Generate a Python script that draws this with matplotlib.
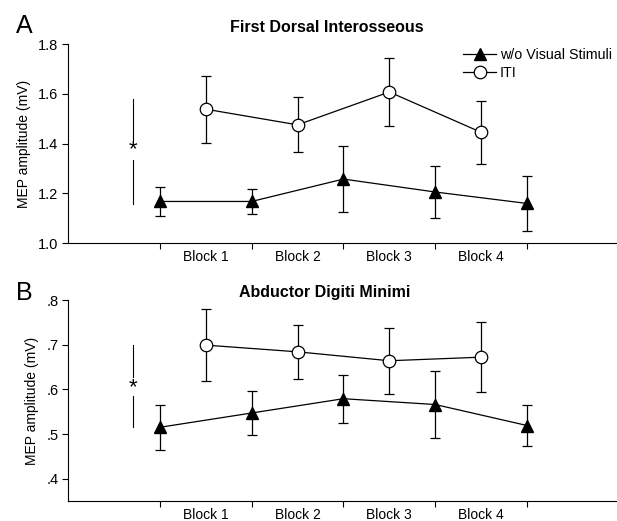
import matplotlib
matplotlib.use("Agg")
import matplotlib.pyplot as plt
from matplotlib.lines import Line2D

plt.rcParams["font.family"] = ["Liberation Sans", "DejaVu Sans"]

# ==== data ====
blocks = ["Block 1", "Block 2", "Block 3", "Block 4"]
tri_x = [0, 1, 2, 3, 4]            # w/o Visual Stimuli sits on the block borders
iti_x = [0.5, 1.5, 2.5, 3.5]       # ITI sits in the middle of each block

fdi_novis = [1.167, 1.167, 1.257, 1.205, 1.159]
fdi_novis_err = [0.057, 0.052, 0.134, 0.105, 0.112]
fdi_iti = [1.538, 1.475, 1.607, 1.445]
fdi_iti_err = [0.135, 0.110, 0.136, 0.127]

adm_novis = [0.515, 0.547, 0.579, 0.566, 0.519]
adm_novis_err = [0.050, 0.050, 0.054, 0.075, 0.046]
adm_iti = [0.699, 0.684, 0.664, 0.672]
adm_iti_err = [0.081, 0.060, 0.074, 0.078]

fdi_ticks = [1.0, 1.2, 1.4, 1.6, 1.8]
fdi_ticklabels = ["1.0", "1.2", "1.4", "1.6", "1.8"]
adm_ticks = [0.4, 0.5, 0.6, 0.7, 0.8]
adm_ticklabels = [".4", ".5", ".6", ".7", ".8"]

# significance bar: (bottom, gap start, gap end, top, star y)
fdi_sig = (1.158, 1.334, 1.415, 1.578, 1.377)
adm_sig = (0.515, 0.586, 0.627, 0.700, 0.604)

W, H = 617, 521
fig = plt.figure(figsize=(W / 100, H / 100), dpi=100)

def draw_panel(rect, novis, novis_err, iti, iti_err, ylim, ticks, ticklabels,
               sig, label_legend=False):
    ax = fig.add_axes(rect)
    ax.errorbar(tri_x, novis, yerr=novis_err, color="black", lw=0.9,
                elinewidth=0.9, capsize=3.6, capthick=0.9, marker="^",
                markersize=9, markerfacecolor="black", markeredgecolor="black",
                zorder=3)
    ax.errorbar(iti_x, iti, yerr=iti_err, color="black", lw=0.9,
                elinewidth=0.9, capsize=3.6, capthick=0.9, marker="o",
                markersize=9, markerfacecolor="white", markeredgecolor="black",
                markeredgewidth=0.9, zorder=3)

    ax.set_xlim(-1, 4.98)
    ax.set_ylim(*ylim)
    ax.set_yticks(ticks)
    ax.set_yticklabels(ticklabels)
    ax.set_xticks(tri_x)
    ax.set_xticklabels([])
    ax.set_xticks(iti_x, minor=True)
    ax.set_xticklabels(blocks, minor=True)
    ax.tick_params(axis="x", which="minor", length=0, pad=5, labelsize=10)
    ax.tick_params(axis="both", which="major", length=4, width=0.8,
                   labelsize=10.5, pad=3)
    for s in ("top", "right"):
        ax.spines[s].set_visible(False)
    for s in ("left", "bottom"):
        ax.spines[s].set_linewidth(0.8)
    ax.set_ylabel("MEP amplitude (mV)", fontsize=10, labelpad=5)

    # vertical bar with star on the left
    lo, g0, g1, hi, sy = sig
    ax.plot([-0.29, -0.29], [lo, g0], color="black", lw=0.8)
    ax.plot([-0.29, -0.29], [g1, hi], color="black", lw=0.8)
    ax.text(-0.29, sy, "*", ha="center", va="center", fontsize=16)

    if label_legend:
        handles = [
            Line2D([], [], color="black", lw=0.9, marker="^", markersize=9,
                   markerfacecolor="black"),
            Line2D([], [], color="black", lw=0.9, marker="o", markersize=9,
                   markerfacecolor="white", markeredgewidth=0.9),
        ]
        ax.legend(handles, ["w/o Visual Stimuli", "ITI"], loc="upper left",
                  bbox_to_anchor=(0.72, 0.98), frameon=False, fontsize=10.3,
                  handlelength=2.3, handletextpad=0.25, labelspacing=0.3,
                  borderpad=0, borderaxespad=0)
    return ax

axA = draw_panel([68 / W, 1 - 243 / H, 1 - 68 / W, 199 / H],
                 fdi_novis, fdi_novis_err, fdi_iti, fdi_iti_err, (1.0, 1.8),
                 fdi_ticks, fdi_ticklabels, fdi_sig, label_legend=True)
axB = draw_panel([68 / W, 1 - 501 / H, 1 - 68 / W, 201 / H],
                 adm_novis, adm_novis_err, adm_iti, adm_iti_err, (0.35, 0.8),
                 adm_ticks, adm_ticklabels, adm_sig)

# titles and panel letters
fig.text(327 / W, 1 - 28 / H, "First Dorsal Interosseous", ha="center",
         va="center", fontsize=11.5, fontweight="bold")
fig.text(325 / W, 1 - 292 / H, "Abductor Digiti Minimi", ha="center",
         va="center", fontsize=11.5, fontweight="bold")
fig.text(16 / W, 1 - 26 / H, "A", ha="left", va="center", fontsize=18)
fig.text(16 / W, 1 - 293 / H, "B", ha="left", va="center", fontsize=18)

fig.savefig("out.png", dpi=100)
